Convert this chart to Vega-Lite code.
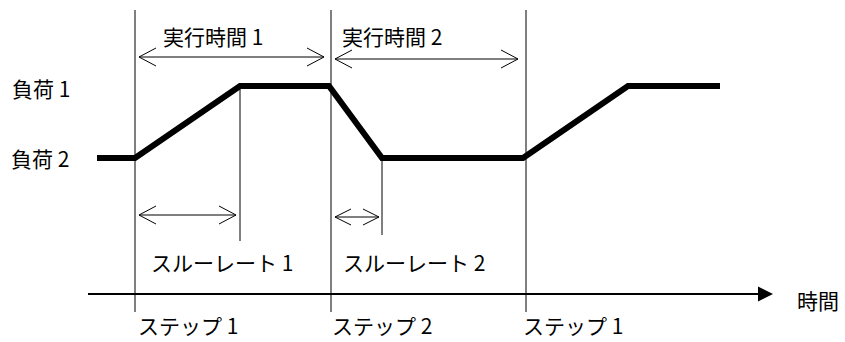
{
  "$schema": "https://vega.github.io/schema/vega-lite/v6.json",
  "autosize": {"type": "none"},
  "width": 845,
  "height": 342,
  "padding": 0,
  "background": "white",
  "config": {"view": {"stroke": null}},
  "datasets": {
    "thin": [
      {"x": 135, "y": 10, "x2": 135, "y2": 312},
      {"x": 331, "y": 10, "x2": 331, "y2": 312},
      {"x": 526, "y": 10, "x2": 526, "y2": 312},
      {"x": 240, "y": 86, "x2": 240, "y2": 241},
      {"x": 382, "y": 158, "x2": 382, "y2": 235},
      {"x": 139, "y": 57, "x2": 324, "y2": 57},
      {"x": 139, "y": 57, "x2": 156, "y2": 48},
      {"x": 139, "y": 57, "x2": 156, "y2": 66},
      {"x": 324, "y": 57, "x2": 307, "y2": 48},
      {"x": 324, "y": 57, "x2": 307, "y2": 66},
      {"x": 335, "y": 59, "x2": 518, "y2": 59},
      {"x": 335, "y": 59, "x2": 352, "y2": 50},
      {"x": 335, "y": 59, "x2": 352, "y2": 68},
      {"x": 518, "y": 59, "x2": 501, "y2": 50},
      {"x": 518, "y": 59, "x2": 501, "y2": 68},
      {"x": 139, "y": 215, "x2": 236, "y2": 215},
      {"x": 139, "y": 215, "x2": 156, "y2": 206},
      {"x": 139, "y": 215, "x2": 156, "y2": 224},
      {"x": 236, "y": 215, "x2": 219, "y2": 206},
      {"x": 236, "y": 215, "x2": 219, "y2": 224},
      {"x": 335, "y": 217, "x2": 379, "y2": 217},
      {"x": 335, "y": 217, "x2": 351, "y2": 209},
      {"x": 335, "y": 217, "x2": 351, "y2": 225},
      {"x": 379, "y": 217, "x2": 363, "y2": 209},
      {"x": 379, "y": 217, "x2": 363, "y2": 225}
    ],
    "axis": [{"x": 88, "y": 294, "x2": 760, "y2": 294}],
    "tip": [{"x": 765.5, "y": 294}],
    "load": [
      {"i": 0, "x": 97, "y": 158},
      {"i": 1, "x": 135, "y": 158},
      {"i": 2, "x": 240, "y": 86},
      {"i": 3, "x": 329, "y": 86},
      {"i": 4, "x": 382, "y": 158},
      {"i": 5, "x": 523, "y": 158},
      {"i": 6, "x": 628, "y": 86},
      {"i": 7, "x": 720, "y": 86}
    ],
    "labels": [
      {"x": 12, "y": 91, "t": "負荷 1"},
      {"x": 11, "y": 161, "t": "負荷 2"},
      {"x": 163, "y": 39, "t": "実行時間 1"},
      {"x": 342, "y": 39, "t": "実行時間 2"},
      {"x": 151, "y": 265, "t": "スルーレート 1"},
      {"x": 343, "y": 265, "t": "スルーレート 2"},
      {"x": 138, "y": 328, "t": "ステップ 1"},
      {"x": 332, "y": 328, "t": "ステップ 2"},
      {"x": 523, "y": 328, "t": "ステップ 1"},
      {"x": 797, "y": 303, "t": "時間"}
    ]
  },
  "layer": [
    {
      "data": {"name": "thin"},
      "mark": {"type": "rule", "color": "black", "strokeWidth": 1},
      "encoding": {
        "x": {"field": "x", "type": "quantitative", "scale": {"domain": [0, 845], "nice": false, "zero": false}, "axis": null},
        "y": {"field": "y", "type": "quantitative", "scale": {"domain": [0, 342], "reverse": true, "nice": false, "zero": false}, "axis": null},
        "x2": {"field": "x2"},
        "y2": {"field": "y2"}
      }
    },
    {
      "data": {"name": "axis"},
      "mark": {"type": "rule", "color": "black", "strokeWidth": 2},
      "encoding": {
        "x": {"field": "x", "type": "quantitative"},
        "y": {"field": "y", "type": "quantitative"},
        "x2": {"field": "x2"},
        "y2": {"field": "y2"}
      }
    },
    {
      "data": {"name": "tip"},
      "mark": {"type": "point", "shape": "M-1,-1L1,0L-1,1Z", "size": 225, "filled": true, "color": "black", "opacity": 1},
      "encoding": {
        "x": {"field": "x", "type": "quantitative"},
        "y": {"field": "y", "type": "quantitative"}
      }
    },
    {
      "data": {"name": "load"},
      "mark": {"type": "line", "color": "black", "strokeWidth": 6, "strokeJoin": "miter", "strokeCap": "butt"},
      "encoding": {
        "x": {"field": "x", "type": "quantitative"},
        "y": {"field": "y", "type": "quantitative"},
        "order": {"field": "i", "type": "quantitative"}
      }
    },
    {
      "data": {"name": "labels"},
      "mark": {"type": "text", "align": "left", "baseline": "middle", "font": "Noto Sans CJK JP", "fontSize": 21, "color": "black"},
      "encoding": {
        "x": {"field": "x", "type": "quantitative"},
        "y": {"field": "y", "type": "quantitative"},
        "text": {"field": "t"}
      }
    }
  ]
}
